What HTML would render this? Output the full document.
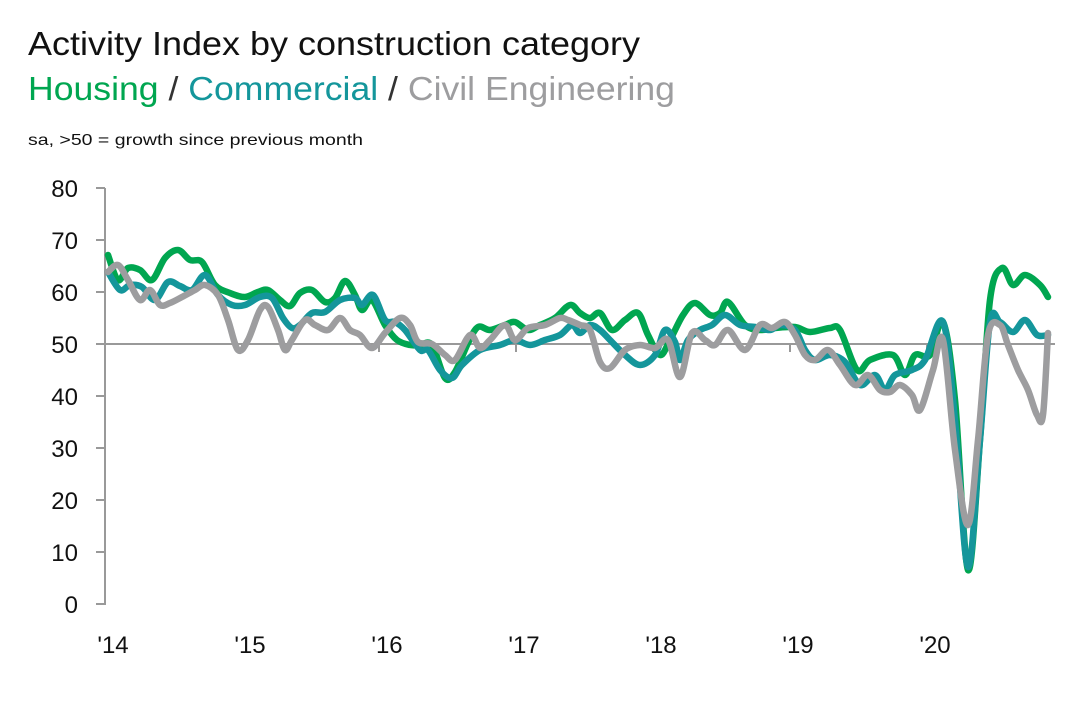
<!DOCTYPE html>
<html><head><meta charset="utf-8"><style>
body{margin:0;background:#fff;width:1068px;height:699px;overflow:hidden;font-family:"Liberation Sans",sans-serif}
</style></head><body>
<svg width="1068" height="699" xmlns="http://www.w3.org/2000/svg" font-family="Liberation Sans, sans-serif">
<text x="28" y="55" font-size="33" fill="#111" textLength="612" lengthAdjust="spacingAndGlyphs">Activity Index by construction category</text>
<text x="28" y="100" font-size="33" textLength="647" lengthAdjust="spacingAndGlyphs"><tspan fill="#00a650">Housing</tspan><tspan fill="#333"> / </tspan><tspan fill="#14969b">Commercial</tspan><tspan fill="#333"> / </tspan><tspan fill="#9d9d9f">Civil Engineering</tspan></text>
<text x="28" y="145" font-size="16" fill="#111" textLength="335" lengthAdjust="spacingAndGlyphs">sa, &gt;50 = growth since previous month</text>
<g font-size="24" fill="#111" text-anchor="end">
<text x="78" y="197">80</text><text x="78" y="249">70</text><text x="78" y="301">60</text><text x="78" y="353">50</text><text x="78" y="405">40</text><text x="78" y="457">30</text><text x="78" y="509">20</text><text x="78" y="561">10</text><text x="78" y="613">0</text>
</g>
<g font-size="24" fill="#111" text-anchor="middle">
<text x="113" y="653">'14</text><text x="250" y="653">'15</text><text x="387" y="653">'16</text><text x="524" y="653">'17</text><text x="661" y="653">'18</text><text x="798" y="653">'19</text><text x="935" y="653">'20</text>
</g>
<g stroke="#999" stroke-width="2" fill="none">
<line x1="105" y1="188" x2="105" y2="605"/>
<path d="M96 188H105M96 240H105M96 292H105M96 344H105M96 396H105M96 448H105M96 500H105M96 552H105M96 604H105"/>
<line x1="96" y1="344" x2="1055" y2="344"/>
<path d="M242 344V352M379 344V352M516 344V352M653 344V352M790 344V352M927 344V352"/>
</g>
<g id="lines" fill="none" stroke-width="6.5" stroke-linejoin="round" stroke-linecap="round"></g>
</svg>
<script>
function sm(p){let d="M"+p[0][0]+" "+p[0][1];for(let i=0;i<p.length-1;i++){const a=p[i-1]||p[i],b=p[i],c=p[i+1],e=p[i+2]||c;d+=" C"+(b[0]+(c[0]-a[0])/6)+" "+(b[1]+(c[1]-a[1])/6)+" "+(c[0]-(e[0]-b[0])/6)+" "+(c[1]-(e[1]-b[1])/6)+" "+c[0]+" "+c[1];}return d;}
const green=[[108,255],[118,280],[128,268],[140,270],[152,280],[165,258],[178,250],[190,260],[202,262],[215,285],[230,293],[245,297],[258,292],[268,290],[280,300],[290,306],[300,293],[312,290],[325,302],[335,298],[345,281],[355,295],[362,310],[372,300],[385,325],[397,340],[410,345],[420,345],[432,345],[445,378],[455,372],[468,343],[478,327],[490,330],[505,325],[515,322],[528,330],[540,325],[555,318],[570,305],[580,313],[590,318],[600,313],[612,330],[625,320],[638,313],[648,335],[660,355],[670,340],[683,315],[695,303],[710,315],[720,313],[728,302],[745,325],[760,330],[775,328],[795,327],[810,332],[830,328],[840,330],[857,370],[870,360],[893,355],[905,375],[915,355],[930,355],[943,322],[955,400],[968,570],[980,440],[990,300],[1002,268],[1013,285],[1025,275],[1040,285],[1048,297]];
const teal=[[108,272],[120,290],[130,285],[142,287],[155,300],[168,282],[180,286],[192,290],[205,275],[218,295],[232,305],[245,305],[260,297],[272,298],[283,318],[292,328],[300,325],[312,313],[325,312],[340,300],[355,298],[362,305],[373,295],[385,320],[395,322],[405,330],[420,350],[428,350],[440,370],[452,378],[462,365],[480,350],[500,345],[515,340],[530,345],[545,340],[560,335],[572,325],[580,333],[590,325],[600,330],[610,340],[625,355],[640,365],[655,355],[665,330],[675,342],[680,360],[688,340],[700,330],[712,325],[725,315],[740,325],[755,327],[770,330],[780,325],[795,330],[805,350],[815,360],[830,355],[845,362],[860,385],[875,375],[885,390],[895,375],[912,370],[925,360],[943,322],[955,420],[968,567],[980,440],[990,322],[1000,322],[1013,332],[1025,320],[1037,335],[1048,335]];
const grey=[[108,272],[118,265],[128,280],[140,300],[150,290],[160,305],[170,303],[182,297],[195,290],[205,285],[218,295],[228,320],[238,350],[248,340],[260,310],[268,307],[278,330],[285,350],[292,340],[305,320],[315,325],[328,330],[340,318],[350,330],[360,335],[372,348],[385,333],[400,318],[410,325],[418,342],[432,344],[445,355],[455,360],[470,335],[480,348],[490,340],[505,325],[515,340],[528,328],[545,325],[560,318],[568,320],[580,325],[590,330],[600,362],[610,368],[625,350],[640,345],[655,348],[668,340],[680,377],[692,333],[705,340],[715,345],[728,330],[745,350],[760,325],[772,328],[785,322],[795,335],[805,355],[815,360],[828,350],[840,365],[855,385],[868,375],[880,390],[890,392],[900,385],[912,395],[920,410],[933,370],[943,340],[955,450],[968,525],[978,440],[988,335],[1000,325],[1008,345],[1018,370],[1028,390],[1037,415],[1043,415],[1048,333]];
const g=document.getElementById("lines");
[[green,"#00a650"],[teal,"#14969b"],[grey,"#9d9d9f"]].forEach(([p,c])=>{const e=document.createElementNS("http://www.w3.org/2000/svg","path");e.setAttribute("d",sm(p));e.setAttribute("stroke",c);g.appendChild(e);});
</script>
</body></html>
